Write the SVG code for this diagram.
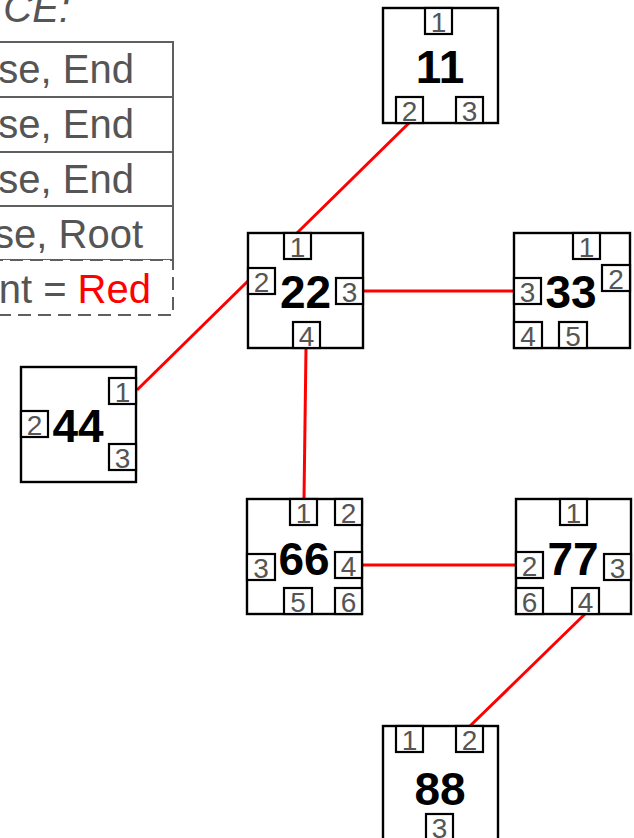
<svg xmlns="http://www.w3.org/2000/svg" width="634" height="838" viewBox="0 0 634 838">
<style>
.node{fill:#fff;stroke:#000;stroke-width:2.4}
.port{fill:#fff;stroke:#000;stroke-width:2.2}
.pt{font-family:"Liberation Sans",Arial,sans-serif;font-size:28px;fill:#555;text-anchor:middle}
.nl{font-family:"Liberation Sans",Arial,sans-serif;font-size:46px;font-weight:bold;fill:#000;text-anchor:middle}
.edge{stroke:#f00;stroke-width:3;fill:none}
.lg{fill:#fff;stroke:#5f5f5f;stroke-width:2}
.lgd{fill:#fff;stroke:#5f5f5f;stroke-width:2;stroke-dasharray:13 7}
.lt{font-family:"Liberation Sans",Arial,sans-serif;font-size:40px;fill:#555;text-anchor:end}
</style>
<rect width="634" height="838" fill="#fff"/>
<g id="legend">
<text class="lt" x="70" y="22" font-style="italic">CE:</text>
<rect class="lg" x="-10" y="42" width="183" height="55"/>
<rect class="lg" x="-10" y="97" width="183" height="55"/>
<rect class="lg" x="-10" y="152" width="183" height="54"/>
<rect class="lg" x="-10" y="206" width="183" height="54"/>
<rect class="lgd" x="-10" y="260" width="183" height="55"/>
<text class="lt" x="134" y="83">se, End</text>
<text class="lt" x="134" y="138">se, End</text>
<text class="lt" x="134" y="193">se, End</text>
<text class="lt" x="143" y="248">se, Root</text>
<text class="lt" x="151" y="303">nt = <tspan fill="#f00">Red</tspan></text>
</g>
<g id="connectors">
<line class="edge" x1="409" y1="123" x2="297" y2="233"/>
<line class="edge" x1="248" y1="281" x2="137" y2="390"/>
<line class="edge" x1="363" y1="291" x2="514" y2="291"/>
<line class="edge" x1="306" y1="348" x2="304" y2="499"/>
<line class="edge" x1="362" y1="565" x2="516" y2="565"/>
<line class="edge" x1="585" y1="614" x2="470" y2="726"/>
</g>
<g id="node11">
<rect class="node" x="383" y="8" width="115" height="115"/>
<text class="nl" x="440" y="83">11</text>
<rect class="port" x="425" y="8" width="27" height="26"/><text class="pt" x="438.5" y="32">1</text>
<rect class="port" x="396" y="97" width="27" height="26"/><text class="pt" x="409.5" y="121">2</text>
<rect class="port" x="456" y="97" width="27" height="26"/><text class="pt" x="469.5" y="121">3</text>
</g>
<g id="node22">
<rect class="node" x="248" y="233" width="115" height="115"/>
<text class="nl" x="305.5" y="308">22</text>
<rect class="port" x="284" y="233" width="27" height="26"/><text class="pt" x="297.5" y="257">1</text>
<rect class="port" x="248" y="268" width="27" height="26"/><text class="pt" x="261.5" y="292">2</text>
<rect class="port" x="336" y="278" width="27" height="26"/><text class="pt" x="349.5" y="302">3</text>
<rect class="port" x="293" y="322" width="27" height="26"/><text class="pt" x="306.5" y="346">4</text>
</g>
<g id="node33">
<rect class="node" x="514" y="233" width="116" height="115"/>
<text class="nl" x="571" y="308">33</text>
<rect class="port" x="573" y="233" width="27" height="26"/><text class="pt" x="586.5" y="257">1</text>
<rect class="port" x="602" y="265" width="28" height="26"/><text class="pt" x="616" y="289">2</text>
<rect class="port" x="514" y="278" width="27" height="26"/><text class="pt" x="527.5" y="302">3</text>
<rect class="port" x="514" y="322" width="28" height="26"/><text class="pt" x="528" y="346">4</text>
<rect class="port" x="559" y="322" width="28" height="26"/><text class="pt" x="573" y="346">5</text>
</g>
<g id="node44">
<rect class="node" x="21" y="367" width="115" height="115"/>
<text class="nl" x="78" y="442">44</text>
<rect class="port" x="109" y="378" width="27" height="26"/><text class="pt" x="122.5" y="402">1</text>
<rect class="port" x="21" y="411" width="27" height="26"/><text class="pt" x="34.5" y="435">2</text>
<rect class="port" x="109" y="444" width="27" height="26"/><text class="pt" x="122.5" y="468">3</text>
</g>
<g id="node66">
<rect class="node" x="247" y="499" width="115" height="115"/>
<text class="nl" x="304" y="575">66</text>
<rect class="port" x="290" y="499" width="27" height="26"/><text class="pt" x="303.5" y="523">1</text>
<rect class="port" x="335" y="499" width="27" height="26"/><text class="pt" x="348.5" y="523">2</text>
<rect class="port" x="247" y="554" width="28" height="26"/><text class="pt" x="261" y="578">3</text>
<rect class="port" x="335" y="552" width="27" height="26"/><text class="pt" x="348.5" y="576">4</text>
<rect class="port" x="284" y="588" width="28" height="26"/><text class="pt" x="298" y="612">5</text>
<rect class="port" x="335" y="588" width="27" height="26"/><text class="pt" x="348.5" y="612">6</text>
</g>
<g id="node77">
<rect class="node" x="516" y="499" width="115" height="115"/>
<text class="nl" x="573" y="575">77</text>
<rect class="port" x="560" y="499" width="27" height="26"/><text class="pt" x="573.5" y="523">1</text>
<rect class="port" x="516" y="552" width="27" height="26"/><text class="pt" x="529.5" y="576">2</text>
<rect class="port" x="604" y="554" width="27" height="26"/><text class="pt" x="617.5" y="578">3</text>
<rect class="port" x="572" y="588" width="27" height="26"/><text class="pt" x="585.5" y="612">4</text>
<rect class="port" x="516" y="588" width="27" height="26"/><text class="pt" x="529.5" y="612">6</text>
</g>
<g id="node88">
<rect class="node" x="383" y="726" width="115" height="115"/>
<text class="nl" x="440" y="805">88</text>
<rect class="port" x="396" y="726" width="27" height="26"/><text class="pt" x="409.5" y="750">1</text>
<rect class="port" x="456" y="726" width="27" height="26"/><text class="pt" x="469.5" y="750">2</text>
<rect class="port" x="426" y="814" width="27" height="26"/><text class="pt" x="439.5" y="838">3</text>
</g>
</svg>
